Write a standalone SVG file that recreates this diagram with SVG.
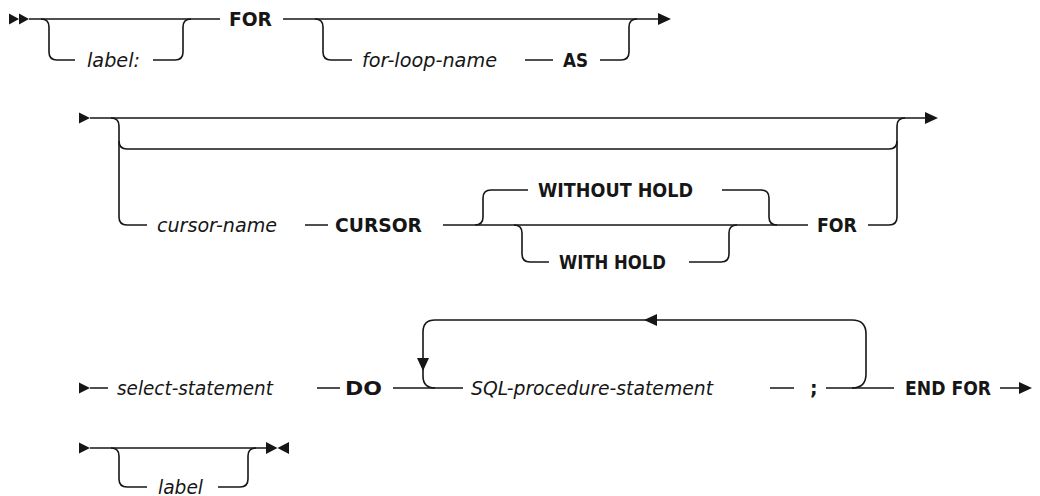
<svg xmlns="http://www.w3.org/2000/svg" width="1040" height="496" viewBox="0 0 1040 496">
<style>
.ln{fill:none;stroke:#161616;stroke-width:1.6;stroke-linecap:butt;stroke-linejoin:round}
.ah{fill:#161616;stroke:none}
.kw{font-family:"DejaVu Sans","Liberation Sans",sans-serif;font-weight:bold;font-size:19px;fill:#161616}
.var{font-family:"DejaVu Sans","Liberation Sans",sans-serif;font-style:oblique;font-size:19px;fill:#161616}
</style>
<rect width="1040" height="496" fill="#ffffff"/>
<g id="connectors">
  <!-- row 1 -->
  <path class="ah" d="M9 13.5 L19 19 L9 24.5 Z M19 13.5 L29 19 L19 24.5 Z"/>
  <path class="ln" d="M29 19 H220"/>
  <path class="ln" d="M41 19 Q49 19 49 27 V52 Q49 60 57 60 H75"/>
  <path class="ln" d="M153 60 H175 Q183 60 183 52 V27 Q183 19 191 19"/>
  <path class="ln" d="M283 19 H658"/>
  <path class="ln" d="M315 19 Q323 19 323 27 V52 Q323 60 331 60 H352"/>
  <path class="ln" d="M525 60 H553 M600 60 H621 Q629 60 629 52 V27 Q629 19 637 19"/>
  <path class="ah" d="M658 13 L671 19 L658 25 Z"/>
  <!-- row 2 -->
  <path class="ah" d="M79 112.5 L90 118 L79 123.5 Z"/>
  <path class="ln" d="M90 118 H925"/>
  <path class="ah" d="M925 112 L938 118 L925 124 Z"/>
  <path class="ln" d="M111 118 Q119 118 119 126 V217 Q119 225 127 225 H147"/>
  <path class="ln" d="M119 141 Q119 149 127 149 H889 Q897 149 897 141"/>
  <path class="ln" d="M868 225 H889 Q897 225 897 217 V126 Q897 118 905 118"/>
  <path class="ln" d="M305 225 H328 M443 225 H808"/>
  <path class="ln" d="M475 225 Q483 225 483 217 V198 Q483 190 491 190 H528"/>
  <path class="ln" d="M722 190 H761 Q769 190 769 198 V217 Q769 225 777 225"/>
  <path class="ln" d="M514 225 Q522 225 522 233 V254 Q522 262 530 262 H549"/>
  <path class="ln" d="M689 262 H721 Q729 262 729 254 V233 Q729 225 737 225"/>
  <!-- row 3 -->
  <path class="ah" d="M79 382.5 L90 388 L79 393.5 Z"/>
  <path class="ln" d="M90 388 H108 M317 388 H340 M393 388 H463 M770 388 H794 M826 388 H894 M1000 388 H1019"/>
  <path class="ah" d="M1019 382 L1032 388 L1019 394 Z"/>
  <path class="ln" d="M435 388 Q423 388 423 376 V332 Q423 320 435 320 H852 Q866 320 866 334 V374 Q866 388 852 388"/>
  <path class="ah" d="M417 358 L429 358 L423 371 Z"/>
  <path class="ah" d="M657 314 L657 326 L644 320 Z"/>
  <!-- row 4 -->
  <path class="ah" d="M79 442.5 L90 448 L79 453.5 Z"/>
  <path class="ln" d="M90 448 H267"/>
  <path class="ln" d="M111 448 Q119 448 119 456 V479 Q119 487 127 487 H147"/>
  <path class="ln" d="M218 487 H240 Q248 487 248 479 V456 Q248 448 256 448"/>
  <path class="ah" d="M266 442 L277.5 448 L266 454 Z M289 442 L277.5 448 L289 454 Z"/>
</g>
<g id="n-label1"><text class="var" x="87" y="66.5" textLength="53" lengthAdjust="spacingAndGlyphs">label:</text></g>
<g id="n-for1"><text class="kw" x="229" y="26" textLength="43" lengthAdjust="spacingAndGlyphs">FOR</text></g>
<g id="n-forloopname"><text class="var" x="362" y="66.5" textLength="135" lengthAdjust="spacingAndGlyphs">for-loop-name</text></g>
<g id="n-as"><text class="kw" x="563" y="67" textLength="25" lengthAdjust="spacingAndGlyphs">AS</text></g>
<g id="n-cursorname"><text class="var" x="157" y="231.5" textLength="120" lengthAdjust="spacingAndGlyphs">cursor-name</text></g>
<g id="n-cursor"><text class="kw" x="335" y="232" textLength="87" lengthAdjust="spacingAndGlyphs">CURSOR</text></g>
<g id="n-withouthold"><text class="kw" x="538" y="197" textLength="155" lengthAdjust="spacingAndGlyphs">WITHOUT HOLD</text></g>
<g id="n-withhold"><text class="kw" x="559" y="269" textLength="107" lengthAdjust="spacingAndGlyphs">WITH HOLD</text></g>
<g id="n-for2"><text class="kw" x="817" y="232" textLength="40" lengthAdjust="spacingAndGlyphs">FOR</text></g>
<g id="n-select"><text class="var" x="117" y="394.5" textLength="156" lengthAdjust="spacingAndGlyphs">select-statement</text></g>
<g id="n-do"><text class="kw" x="345" y="395" textLength="37" lengthAdjust="spacingAndGlyphs">DO</text></g>
<g id="n-sqlproc"><text class="var" x="471" y="394.5" textLength="242" lengthAdjust="spacingAndGlyphs">SQL-procedure-statement</text></g>
<g id="n-semi"><text class="kw" x="810" y="395">;</text></g>
<g id="n-endfor"><text class="kw" x="905" y="395" textLength="86" lengthAdjust="spacingAndGlyphs">END FOR</text></g>
<g id="n-label2"><text class="var" x="158" y="493.5" textLength="45" lengthAdjust="spacingAndGlyphs">label</text></g>
</svg>
